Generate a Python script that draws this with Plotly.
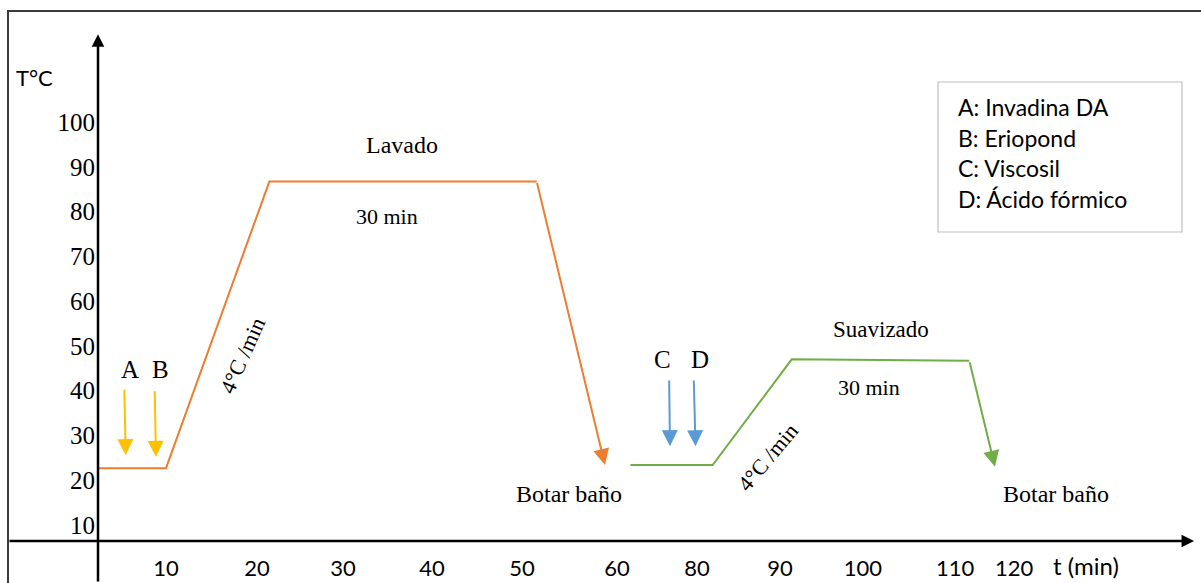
import plotly.graph_objects as go

# ---------------- data ----------------
# temperature profile, stage 1 (Lavado) - time units on the drawn axis, temperature in °C
lavado_t = [0.0, 7.73, 19.47, 49.85]
lavado_T = [22.7, 22.7, 86.7, 86.7]
lavado_drain = [57.61, 23.4]          # end of the draining arrow (t, T)

# stage 2 (Suavizado)
suav_t = [60.5, 69.85, 78.83, 99.01]
suav_T = [23.4, 23.4, 47.0, 46.7]
suav_drain = [101.93, 23.0]

# addition arrows
add_labels = ["A", "B", "C", "D"]
add_t0 = [2.99, 6.44, 64.9, 67.7]
add_t1 = [3.15, 6.59, 65.0, 67.9]
add_T0 = [40.6, 40.2, 42.6, 42.6]
add_T1 = [25.6, 25.2, 27.6, 27.6]
add_colors = ["#FFC000", "#FFC000", "#5B9BD5", "#5B9BD5"]
label_t = [3.6, 7.1, 64.1, 68.4]
label_T = [44.7, 44.7, 47.0, 47.0]

# axis tick labels
x_tick_pos = [7.73, 18.07, 27.84, 37.95, 48.18, 58.98, 68.07, 77.5, 86.93, 97.39, 104.1]
x_tick_labels = ["10", "20", "30", "40", "50", "60", "80", "90", "100", "110", "120"]
y_tick_vals = [10, 20, 30, 40, 50, 60, 70, 80, 90, 100]

legend_lines = ["A: Invadina DA", "B: Eriopond", "C: Viscosil", "D: Ácido fórmico"]

ORANGE = "#ED7D31"
GREEN = "#70AD47"
SERIF = "Liberation Serif"
SANS = "Lato"

X_RANGE = [-11.136, 125.34]
Y_RANGE = [-2.95, 127.24]
X_AXIS_T = 6.43      # temperature level where the time axis is drawn

fig = go.Figure()

fig.add_trace(go.Scatter(x=lavado_t, y=lavado_T, mode="lines",
                         line=dict(color=ORANGE, width=2), hoverinfo="skip"))
fig.add_trace(go.Scatter(x=suav_t, y=suav_T, mode="lines",
                         line=dict(color=GREEN, width=2), hoverinfo="skip"))

anns = []

def arrow(x0, y0, x1, y1, color, width=2, size=1.0, head=2):
    anns.append(dict(x=x1, y=y1, ax=x0, ay=y0, xref="x", yref="y", axref="x", ayref="y",
                     showarrow=True, arrowhead=head, arrowsize=size, arrowwidth=width,
                     arrowcolor=color, standoff=0, startstandoff=0, text=""))

# draining arrows
arrow(lavado_t[-1], lavado_T[-1], lavado_drain[0], lavado_drain[1], ORANGE, 2, 1.6)
arrow(suav_t[-1], suav_T[-1], suav_drain[0], suav_drain[1], GREEN, 2, 1.6)

# addition arrows + letters
for lab, t0, t1, T0, T1, c, lx, ly in zip(add_labels, add_t0, add_t1, add_T0, add_T1,
                                          add_colors, label_t, label_T):
    arrow(t0, T0, t1, T1, c, 2, 1.6)
    anns.append(dict(x=lx, y=ly, xref="x", yref="y", text=lab, showarrow=False,
                     font=dict(family=SERIF, size=25, color="black")))

# axes drawn as arrows
arrow(0, Y_RANGE[0], 0, 119.6, "black", 2.5, 1.0)
arrow(-10.23, X_AXIS_T, 124.55, X_AXIS_T, "black", 2.5, 1.0)

def txt(x, y, s, size=23, family=SERIF, angle=0, **kw):
    d = dict(x=x, y=y, xref="x", yref="y", text=s, showarrow=False, textangle=angle,
             font=dict(family=family, size=size, color="black"))
    d.update(kw)
    anns.append(d)

txt(34.5, 94.9, "Lavado", size=24)
txt(32.8, 79.0, "30 min", size=22)
txt(89.0, 53.7, "Suavizado")
txt(87.6, 40.6, "30 min", size=22)
txt(53.5, 17.0, "Botar baño", size=24)
txt(108.9, 17.0, "Botar baño", size=24)
txt(16.4, 47.9, "4°C /min", size=22, angle=-66)
txt(76.1, 25.0, "4°C /min", size=22, angle=-50)
txt(-7.2, 110.0, "T°C", size=22, family=SANS)
txt(112.3, 0.9, "t (min)", size=24, family=SANS)

# legend box text
for i, s in enumerate(legend_lines):
    anns.append(dict(x=956 / 1201, y=1 - (107 + 30.5 * i) / 583, xref="paper", yref="paper",
                     xanchor="left", yanchor="middle", text=s, showarrow=False,
                     font=dict(family=SANS, size=23, color="black")))

shapes = [
    # outer frame
    dict(type="rect", xref="paper", yref="paper", x0=8 / 1201, x1=1.01, y0=-0.05, y1=1 - 11 / 583,
         line=dict(color="#3a3a3a", width=2), fillcolor="rgba(0,0,0,0)", layer="below"),
    # legend box
    dict(type="rect", xref="paper", yref="paper", x0=938 / 1201, x1=1182 / 1201,
         y0=1 - 232 / 583, y1=1 - 82 / 583, line=dict(color="#bfbfbf", width=1.2),
         fillcolor="white", layer="below"),
]

fig.update_layout(
    width=1201, height=583,
    margin=dict(l=0, r=0, t=0, b=0, pad=0),
    paper_bgcolor="white", plot_bgcolor="white",
    showlegend=False,
    annotations=anns, shapes=shapes,
    xaxis=dict(range=X_RANGE, domain=[0, 1], anchor="free", position=(583 - 541) / 583,
               showline=False, showgrid=False, zeroline=False, ticks="",
               tickvals=x_tick_pos, ticktext=x_tick_labels, ticklabelstandoff=12,
               tickfont=dict(family=SANS, size=22, color="black"), automargin=False,
               fixedrange=True),
    yaxis=dict(range=Y_RANGE, domain=[0, 1], anchor="free", position=98 / 1201,
               showline=False, showgrid=False, zeroline=False, ticks="",
               tickvals=y_tick_vals, ticklabelstandoff=3,
               tickfont=dict(family=SERIF, size=25, color="black"), automargin=False,
               fixedrange=True),
)

fig.write_html("out.html", config={"displayModeBar": False, "staticPlot": True},
               post_script="document.body.style.margin='0';document.body.style.overflow='hidden';")
